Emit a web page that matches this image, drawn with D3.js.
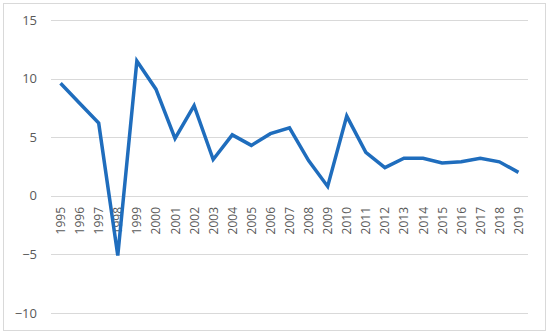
<!DOCTYPE html>
<html>
<head>
<meta charset="utf-8">
<script src="https://cdn.jsdelivr.net/npm/d3@7"></script>
<style>
  body { margin: 0; background: #fff; }
  text { font-family: "Open Sans", "Noto Sans", sans-serif; fill: #595959; }
</style>
</head>
<body>
<div id="chart"></div>
<script>
const years = ["1995","1996","1997","1998","1999","2000","2001","2002","2003","2004","2005","2006","2007",
  "2008","2009","2010","2011","2012","2013","2014","2015","2016","2017","2018","2019"];
const values = [9.6, 7.9, 6.2, -5.1, 11.5, 9.1, 4.9, 7.7, 3.1, 5.2, 4.3, 5.3, 5.8,
  3.0, 0.8, 6.8, 3.7, 2.4, 3.2, 3.2, 2.8, 2.9, 3.2, 2.9, 2.0];
const yTicks = [-10, -5, 0, 5, 10, 15];

const W = 550, H = 335;
const margin = {top: 20, right: 22, bottom: 22, left: 51};

const svg = d3.select("#chart").append("svg")
  .attr("width", W).attr("height", H);

svg.append("rect")
  .attr("x", 3.5).attr("y", 3.5)
  .attr("width", 542).attr("height", 327)
  .attr("fill", "none").attr("stroke", "#d9d9d9");

const x = d3.scaleBand().domain(years).range([margin.left, W - margin.right]);
const y = d3.scaleLinear().domain([-10, 15]).range([H - margin.bottom, margin.top]);

svg.append("g")
  .selectAll("line").data(yTicks).enter().append("line")
  .attr("x1", margin.left).attr("x2", W - margin.right)
  .attr("y1", d => Math.round(y(d)) + 0.5).attr("y2", d => Math.round(y(d)) + 0.5)
  .attr("stroke", "#d9d9d9").attr("stroke-width", 1);

svg.append("g")
  .selectAll("text").data(yTicks).enter().append("text")
  .attr("x", 37).attr("y", d => y(d))
  .attr("dy", "0.35em")
  .attr("text-anchor", "end")
  .style("font-size", "13px")
  .text(d => d < 0 ? "\u2212" + Math.abs(d) : d);

svg.append("g")
  .selectAll("text").data(years).enter().append("text")
  .attr("transform", d => "translate(" + (x(d) + x.bandwidth() / 2 + 4.5) + "," + 207 + ") rotate(-90)")
  .attr("text-anchor", "end")
  .style("font-size", "12px")
  .text(d => d);

const line = d3.line()
  .x((d, i) => x(years[i]) + x.bandwidth() / 2)
  .y(d => y(d));

svg.append("path")
  .datum(values)
  .attr("d", line)
  .attr("fill", "none")
  .attr("stroke", "#1f6dbd")
  .attr("stroke-width", 3.5)
  .attr("stroke-linejoin", "miter");
</script>
</body>
</html>
